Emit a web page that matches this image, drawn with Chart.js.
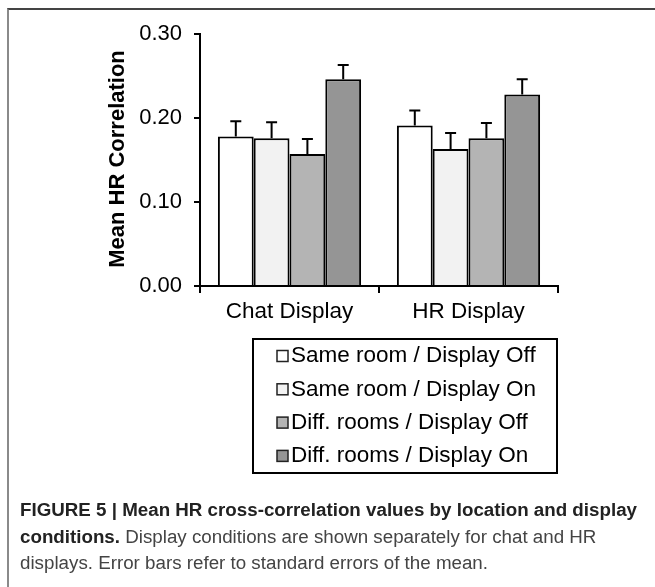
<!DOCTYPE html>
<html>
<head>
<meta charset="utf-8">
<script src="https://cdn.jsdelivr.net/npm/chart.js@4.4.0/dist/chart.umd.js"></script>
<style>
  body { margin: 0; background: #fff; }
  #wrap { position: relative; width: 655px; height: 587px; overflow: hidden; }
  #frame { position: absolute; left: 7px; top: 8px; width: 660px; height: 600px;
           border-top: 2px solid #444; border-left: 2px solid #8a8a8a; }
  #chart { position: absolute; left: 0; top: 0; }
  #caption { position: absolute; left: 20px; top: 497px; font-family: 'Liberation Sans', Arial, sans-serif;
             font-size: 18px; line-height: 26.5px; color: #444; white-space: nowrap; transform-origin: 0 0; }
  #caption b { color: #222; }
</style>
</head>
<body>
<div id="wrap">
  <div id="frame"></div>
  <canvas id="chart" width="655" height="587"></canvas>
  <div id="caption">
    <div id="capLine1"><b>FIGURE 5 | Mean HR cross-correlation values by location and display</b></div>
    <div><b>conditions.</b> Display conditions are shown separately for chat and HR</div>
    <div>displays. Error bars refer to standard errors of the mean.</div>
  </div>
</div>
<script>
// categories and series (mean HR correlation, standard error)
const categories = ['Chat Display', 'HR Display'];
const seriesLabels = ['Same room / Display Off', 'Same room / Display On', 'Diff. rooms / Display Off', 'Diff. rooms / Display On'];
const sameRoomOff = [0.178, 0.191];
const sameRoomOn = [0.176, 0.163];
const diffRoomsOff = [0.157, 0.176];
const diffRoomsOn = [0.246, 0.228];
const sameRoomOffErr = [0.018, 0.018];
const sameRoomOnErr = [0.019, 0.019];
const diffRoomsOffErr = [0.018, 0.018];
const diffRoomsOnErr = [0.017, 0.018];
const yTicks = [0, 0.1, 0.2, 0.3];
const yTitle = 'Mean HR Correlation';

const fillColors = ['#ffffff', '#f2f2f2', '#b4b4b4', '#959595'];
const FONT = "'Liberation Sans', Arial, sans-serif";

// error bars on top of each bar
const errorBars = {
    id: 'errorBars',
    afterDatasetsDraw(chart) {
        const ctx = chart.ctx;
        const y = chart.scales.y;
        ctx.save();
        ctx.strokeStyle = '#000';
        ctx.lineWidth = 2;
        chart.data.datasets.forEach(function(ds, i) {
            const meta = chart.getDatasetMeta(i);
            meta.data.forEach(function(bar, j) {
                const top = y.getPixelForValue(ds.data[j] + ds.errors[j]);
                ctx.beginPath();
                ctx.moveTo(bar.x, bar.y);
                ctx.lineTo(bar.x, top);
                ctx.moveTo(bar.x - 5.5, top);
                ctx.lineTo(bar.x + 5.5, top);
                ctx.stroke();
            });
        });
        ctx.restore();
    }
};

// rotated y title and boxed legend under the plot
const extras = {
    id: 'extras',
    afterDraw(chart) {
        const ctx = chart.ctx;
        ctx.save();
        ctx.translate(118, 159);
        ctx.rotate(-Math.PI / 2);
        ctx.font = 'bold 22px ' + FONT;
        ctx.fillStyle = '#000';
        ctx.textAlign = 'center';
        ctx.textBaseline = 'middle';
        ctx.fillText(yTitle, 0, 0);
        ctx.restore();

        // legend box
        ctx.save();
        ctx.strokeStyle = '#000';
        ctx.lineWidth = 2;
        ctx.strokeRect(253, 339, 304, 134);
        ctx.font = '22.5px ' + FONT;
        ctx.textBaseline = 'middle';
        chart.data.datasets.forEach(function(ds, i) {
            const cy = 356 + i * 33.3;
            ctx.fillStyle = ds.backgroundColor;
            ctx.fillRect(277, cy - 5.5, 11, 11);
            ctx.lineWidth = 1.5;
            ctx.strokeStyle = '#222';
            ctx.strokeRect(277, cy - 5.5, 11, 11);
            ctx.fillStyle = '#000';
            ctx.fillText(ds.label, 291, cy);
        });
        ctx.restore();
    }
};

const values = [sameRoomOff, sameRoomOn, diffRoomsOff, diffRoomsOn];
const errs = [sameRoomOffErr, sameRoomOnErr, diffRoomsOffErr, diffRoomsOnErr];

new Chart(document.getElementById('chart'), {
    type: 'bar',
    data: {
        labels: categories,
        datasets: seriesLabels.map(function(label, i) {
            return {
                label: label,
                data: values[i],
                errors: errs[i],
                backgroundColor: fillColors[i],
                borderColor: '#000',
                borderWidth: 2,
                categoryPercentage: 0.8,
                barPercentage: 1.0
            };
        })
    },
    options: {
        responsive: false,
        animation: false,
        layout: { padding: { left: 0, top: 34, right: 97, bottom: 261 } },
        plugins: { legend: { display: false }, tooltip: { enabled: false } },
        scales: {
            x: {
                afterFit: function(scale) { scale.height = 40; },
                grid: { display: true, offset: true, drawOnChartArea: false, tickLength: 7, color: '#000', lineWidth: 2 },
                border: { color: '#000', width: 2 },
                ticks: { color: '#000', font: { family: FONT, size: 22.5 }, padding: 5 }
            },
            y: {
                min: 0,
                max: 0.3,
                afterFit: function(scale) { scale.width = 200; },
                afterBuildTicks: function(scale) { scale.ticks = yTicks.map(function(v) { return { value: v }; }); },
                grid: { drawOnChartArea: false, tickLength: 6, color: '#000', lineWidth: 2 },
                border: { color: '#000', width: 2 },
                ticks: {
                    color: '#000', font: { family: FONT, size: 22 }, padding: 12,
                    callback: function(v) { return v.toFixed(2); }
                }
            }
        }
    },
    plugins: [errorBars, extras]
});

// squeeze caption to the width of the original figure caption
const line1 = document.getElementById('capLine1');
const w = line1.firstChild.getBoundingClientRect().width;
document.getElementById('caption').style.transform = 'scaleX(' + (617 / w) + ')';
</script>
</body>
</html>
